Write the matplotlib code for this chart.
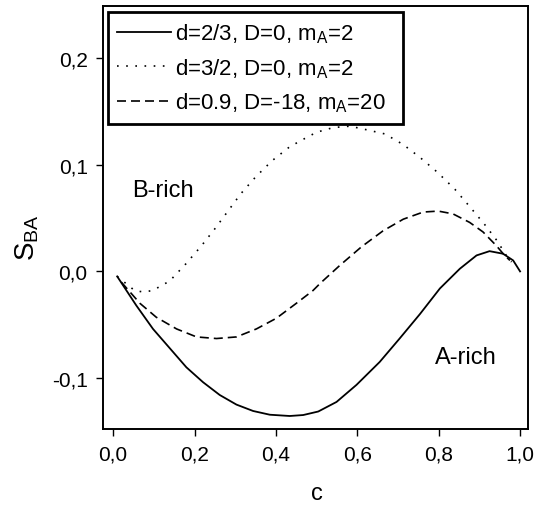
import matplotlib
matplotlib.use("Agg")
import matplotlib.pyplot as plt
from matplotlib.ticker import FuncFormatter

plt.rcParams['font.family'] = ['Liberation Sans', 'DejaVu Sans']
plt.rcParams['mathtext.fontset'] = 'custom'
plt.rcParams['mathtext.rm'] = 'Liberation Sans'
plt.rcParams['mathtext.it'] = 'Liberation Sans'

# d=2/3, D=0, mA=2
c_solid = [0.01, 0.057, 0.098, 0.139, 0.180, 0.221, 0.262, 0.303, 0.344,
           0.385, 0.434, 0.467, 0.504, 0.549, 0.598, 0.655, 0.704, 0.754,
           0.803, 0.852, 0.893, 0.925, 0.958, 0.983, 1.0]
s_solid = [-0.0047, -0.032, -0.054, -0.072, -0.090, -0.104, -0.116, -0.125,
           -0.131, -0.1345, -0.1357, -0.1348, -0.1315, -0.1225, -0.1065, -0.085,
           -0.063, -0.040, -0.016, 0.0025, 0.015, 0.019, 0.0166, 0.0103, 0.0]

# d=3/2, D=0, mA=2
c_dot = [0.01, 0.053, 0.074, 0.097, 0.139, 0.179, 0.217, 0.250, 0.281, 0.314,
         0.351, 0.391, 0.434, 0.477, 0.5, 0.541, 0.582, 0.622, 0.668, 0.713,
         0.754, 0.797, 0.840, 0.878, 0.913, 0.943, 0.966, 0.979]
s_dot = [-0.0047, -0.018, -0.0193, -0.018, -0.009, 0.0072, 0.024, 0.040,
         0.056, 0.073, 0.089, 0.104, 0.117, 0.126, 0.1306, 0.135, 0.1363,
         0.133, 0.129, 0.119, 0.107, 0.093, 0.077, 0.060, 0.044, 0.029,
         0.015, 0.0088]

# d=0.9, D=-18, mA=20
c_dash = [0.020, 0.066, 0.106, 0.156, 0.205, 0.254, 0.303, 0.352, 0.401,
          0.450, 0.491, 0.508, 0.557, 0.610, 0.663, 0.713, 0.762, 0.799,
          0.835, 0.876, 0.909, 0.942, 0.962, 0.975]
s_dash = [-0.010, -0.030, -0.043, -0.054, -0.0615, -0.063, -0.0615, -0.054,
          -0.044, -0.030, -0.018, -0.0115, 0.0056, 0.023, 0.038, 0.049,
          0.0557, 0.0566, 0.054, 0.046, 0.037, 0.024, 0.015, 0.0103]

labels = [r'd=2/3, D=0, m$_{\mathrm{A}}$=2',
          r'd=3/2, D=0, m$_{\mathrm{A}}$=2',
          r'd=0.9, D=-18, m$_{\mathrm{A}}$=20']

fig = plt.figure(figsize=(5.39, 5.06), dpi=100)
ax = fig.add_axes([0.191, 0.150, 0.789, 0.836])

ax.plot(c_solid, s_solid, color='black', linewidth=1.3, label=labels[0])
ax.plot(c_dot, s_dot, color='black', linewidth=1.2, linestyle=(0, (1, 4.5)),
        label=labels[1])
ax.plot(c_dash, s_dash, color='black', linewidth=1.2, linestyle=(0, (5.4, 3)),
        label=labels[2])

ax.set_xlim(-0.025, 1.02)
ax.set_ylim(-0.148, 0.249)
ax.set_xticks([0.0, 0.2, 0.4, 0.6, 0.8, 1.0])
ax.set_yticks([-0.1, 0.0, 0.1, 0.2])
ax.xaxis.set_major_formatter(FuncFormatter(lambda v, p: f'{v:.1f}'.replace('.', ',')))
ax.yaxis.set_major_formatter(FuncFormatter(lambda v, p: f'{v:.1f}'.replace('.', ',')))
ax.tick_params(direction='out', length=5, width=1, labelsize=15, pad=6)
for sp in ax.spines.values():
    sp.set_linewidth(1.4)

ax.set_xlabel('c', fontsize=17)
ax.xaxis.set_label_coords(0.503, -0.125)
ax.set_ylabel(r'S$_{\mathrm{BA}}$', fontsize=20)
ax.yaxis.set_label_coords(-0.145, 0.454)

ax.text(0.123, 0.076, 'B-rich', fontsize=17, ha='center', va='center')
ax.text(0.866, -0.080, 'A-rich', fontsize=17, ha='center', va='center')

leg = ax.legend(loc='upper left', bbox_to_anchor=(0.012, 0.986, 0.694, 0),
                mode='expand', fontsize=16, frameon=True, fancybox=False,
                framealpha=1, edgecolor='black', handlelength=2.4,
                handletextpad=0.2, borderpad=0.42, labelspacing=0.5,
                borderaxespad=0)
leg.get_frame().set_linewidth(2)

fig.savefig('out.png', dpi=100)
